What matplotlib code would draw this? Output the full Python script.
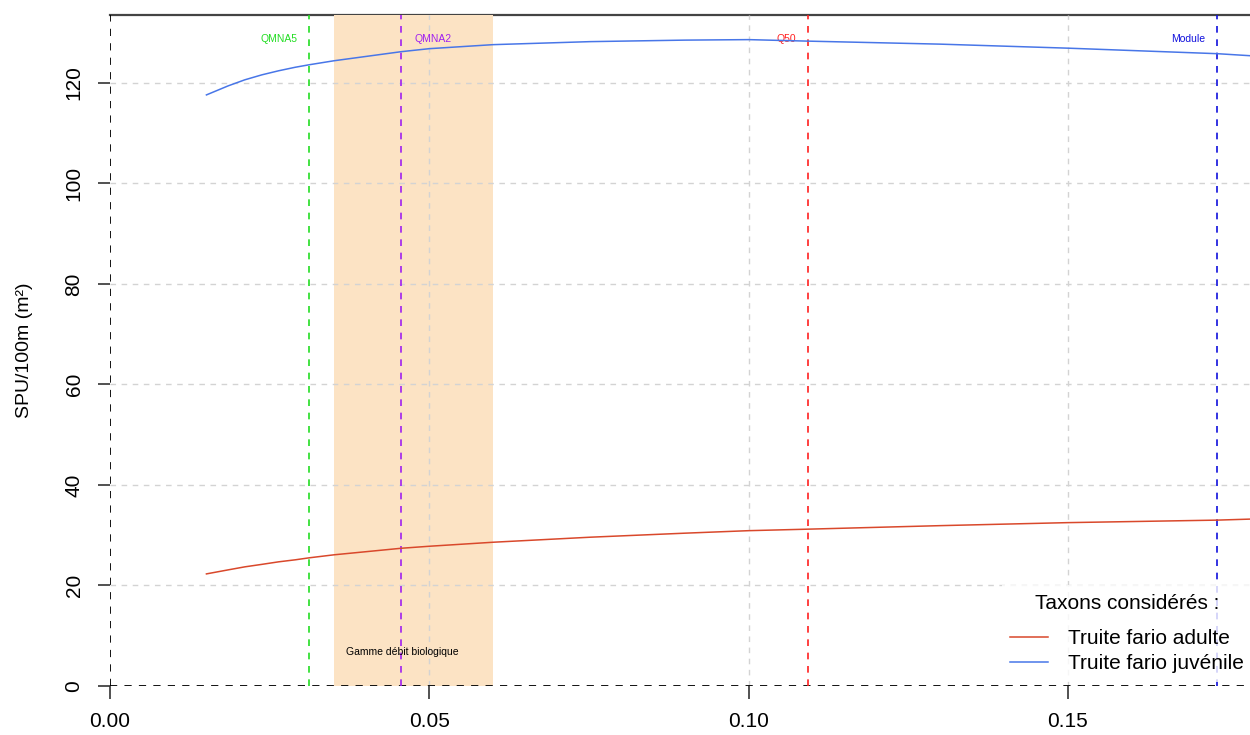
import matplotlib
matplotlib.use("Agg")
from matplotlib import pyplot as plt

plt.rcParams['font.family'] = ['Liberation Sans', 'DejaVu Sans']

# discharge (m3/s) and habitat values
debit = [0.0151, 0.0185, 0.0211, 0.0238, 0.0264, 0.029, 0.0312, 0.0351, 0.0456, 0.05,
         0.06, 0.0752, 0.09, 0.10, 0.1093, 0.13, 0.15, 0.1734, 0.1785]
truite_adulte = [22.3, 23.1, 23.7, 24.2, 24.7, 25.1, 25.5, 26.1, 27.4, 27.8,
                 28.6, 29.6, 30.4, 30.9, 31.2, 31.9, 32.5, 33.0, 33.2]
truite_juvenile = [117.6, 119.4, 120.6, 121.6, 122.4, 123.1, 123.6, 124.4, 126.2, 126.8,
                   127.6, 128.2, 128.5, 128.6, 128.3, 127.7, 126.9, 125.8, 125.4]

# reference discharges
ref_noms = ["QMNA5", "QMNA2", "Q50", "Module"]
ref_valeurs = [0.0312, 0.0456, 0.1093, 0.1734]
ref_couleurs = ["#22DD22", "#A020F0", "#FF2020", "#1010DD"]
gamme_bio = [0.0351, 0.0600]

xticks = [0.0, 0.05, 0.10, 0.15]
xtick_labels = ["0.00", "0.05", "0.10", "0.15"]
yticks = [0, 20, 40, 60, 80, 100, 120]

fig = plt.figure(figsize=(12.5, 7.35), dpi=100)
ax = fig.add_axes([0.088, 0.0667, 0.912, 0.9129])
ax.set_xlim(0, 0.1785)
ax.set_ylim(0, 133.5)

for s in ax.spines.values():
    s.set_visible(False)

# top frame line, hidden behind the biological range band
ax.axhline(133.5, color="#444444", lw=1.6, zorder=0.5, clip_on=False)
ax.axvspan(gamme_bio[0], gamme_bio[1], color="#FCE3C4", lw=0, zorder=1)

for x in xticks[1:]:
    ax.axvline(x, color="#D3D3D3", ls=(0, (4, 4)), lw=1, zorder=1.5)
for y in yticks[1:]:
    ax.axhline(y, color="#D3D3D3", ls=(0, (4, 4)), lw=1, zorder=1.5)

ax.axvline(0, color="black", ls=(0, (4, 4)), lw=1.3, zorder=2)
ax.axhline(0, color="black", ls=(0, (4, 4)), lw=1.3, zorder=2)

for nom, val, col in zip(ref_noms, ref_valeurs, ref_couleurs):
    ax.axvline(val, color=col, ls=(0, (4, 4)), lw=1.2, zorder=2)
    if nom == "QMNA2":
        ax.text(val + 0.002, 128.8, nom, color=col, fontsize=7.5, ha="left", va="center")
    else:
        ax.text(val - 0.0019, 128.8, nom, color=col, fontsize=7.5, ha="right", va="center")

ax.text(0.0457, 6.8, "Gamme débit biologique", fontsize=7.5, ha="center", va="center")

ax.plot(debit, truite_adulte, color="#D9482B", lw=1.1, label="Truite fario adulte", zorder=3)
ax.plot(debit, truite_juvenile, color="#4876E8", lw=1.1, label="Truite fario juvénile", zorder=3)

ax.set_xticks(xticks)
ax.set_xticklabels(xtick_labels)
ax.set_yticks(yticks)
ax.set_yticklabels([str(v) for v in yticks], rotation=90, va="center")
ax.tick_params(axis="both", labelsize=15, length=9, width=1.2, color="#333333")
ax.tick_params(axis="x", pad=10)
ax.tick_params(axis="y", pad=10)
ax.set_ylabel("SPU/100m (m²)", fontsize=14, labelpad=23)

leg = ax.legend(title="Taxons considérés :", loc="lower right", bbox_to_anchor=(1.006, 0.0),
                frameon=True, facecolor="white", edgecolor="none", framealpha=0.8,
                fancybox=False, fontsize=15, title_fontsize=15, handlelength=1.8,
                handletextpad=1.0, labelspacing=0.3, borderaxespad=0.2)
leg._legend_box.align = "center"
leg._legend_box.sep = 12

fig.savefig("out.png", dpi=100)
